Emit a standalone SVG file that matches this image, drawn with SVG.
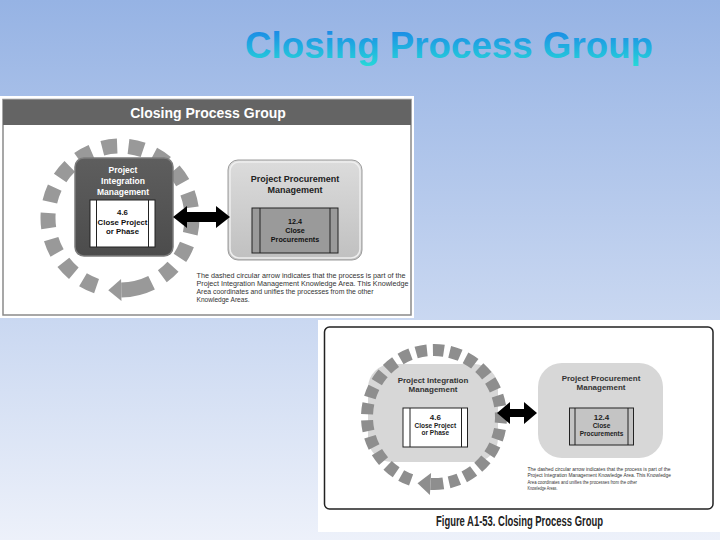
<svg xmlns="http://www.w3.org/2000/svg" width="720" height="540" viewBox="0 0 720 540">
<defs>
<linearGradient id="bg" x1="0" y1="0" x2="0" y2="1">
<stop offset="0" stop-color="#96b3e4"/>
<stop offset="1" stop-color="#edf1fa"/>
</linearGradient>
<linearGradient id="titleGrad" x1="0" y1="0" x2="0" y2="1">
<stop offset="0" stop-color="#1a7fe8"/>
<stop offset="1" stop-color="#26d8d8"/>
</linearGradient>
<linearGradient id="darkBox" x1="0" y1="0" x2="0" y2="1">
<stop offset="0" stop-color="#5e5e5e"/>
<stop offset="1" stop-color="#4c4c4c"/>
</linearGradient>
<linearGradient id="lightBox" x1="0" y1="0" x2="0" y2="1">
<stop offset="0" stop-color="#dcdcdc"/>
<stop offset="1" stop-color="#c0c0c0"/>
</linearGradient>
<style>
.t{font-family:"Liberation Sans",Arial,sans-serif;}
.b{font-weight:bold;}
.ring1{fill:none;stroke:#999;stroke-width:15;stroke-dasharray:15 11.3;}
.ring2{fill:none;stroke:#8e8e8e;stroke-width:12;stroke-dasharray:11 5.88;}
.arrowBody1{fill:none;stroke:#999;stroke-width:15;}
.arrowBody2{fill:none;stroke:#8e8e8e;stroke-width:12;}
.proc{stroke:#222;stroke-width:1;}
</style>
</defs>

<rect width="720" height="540" fill="url(#bg)"/>

<text class="t b" x="245" y="58" font-size="37" fill="url(#titleGrad)" textLength="408" lengthAdjust="spacingAndGlyphs">Closing Process Group</text>

<!-- Panel 1 -->
<g id="panel1">
<rect x="0" y="96" width="414" height="222" fill="#fff"/>
<rect x="3" y="99.5" width="408" height="215.5" fill="none" stroke="#8a8a8a" stroke-width="1.5"/>
<rect x="3" y="100" width="408" height="25" fill="#646464"/>
<text class="t b" x="208" y="118" font-size="14" fill="#fff" text-anchor="middle">Closing Process Group</text>
</g>

<g id="ring1">
<path class="ring1" d="M96.56,286.08 A72,72 0 1 1 162.32,276.25"/>
<path class="arrowBody1" d="M151.56,282.71 A72,72 0 0 1 121.26,289.99"/>
<polygon points="121.45,300.99 121.07,278.99 108.26,290.22" fill="#999"/>
</g>

<g id="integration1">
<rect x="75" y="158" width="98" height="98" rx="9" fill="url(#darkBox)" stroke="#7c7c7c" stroke-width="1.5"/>
<text class="t b" font-size="8.5" fill="#fff" text-anchor="middle"><tspan x="123" y="173">Project</tspan><tspan x="123" y="184">Integration</tspan><tspan x="123" y="195">Management</tspan></text>
<rect x="90" y="200" width="65" height="47" fill="#fff" class="proc"/>
<line x1="96.5" y1="200" x2="96.5" y2="247" class="proc" stroke-width="1.5"/>
<line x1="148.5" y1="200" x2="148.5" y2="247" class="proc" stroke-width="1.5"/>
<text class="t b" font-size="7.8" fill="#111" text-anchor="middle"><tspan x="122.5" y="215">4.6</tspan><tspan x="122.5" y="224.5">Close Project</tspan><tspan x="122.5" y="234">or Phase</tspan></text>
</g>

<g id="procurement1">
<rect x="228" y="160" width="134" height="100" rx="10" fill="url(#lightBox)" stroke="#9c9c9c" stroke-width="1"/>
<rect x="230" y="162" width="130" height="96" rx="9" fill="none" stroke="#eeeeee" stroke-width="1.5"/>
<text class="t b" font-size="9" fill="#222" text-anchor="middle"><tspan x="295" y="181.5">Project Procurement</tspan><tspan x="295" y="192.5">Management</tspan></text>
<rect x="252" y="208" width="86" height="45" fill="#9a9a9a" class="proc"/>
<line x1="260" y1="208" x2="260" y2="253" class="proc" stroke-width="1.5"/>
<line x1="330" y1="208" x2="330" y2="253" class="proc" stroke-width="1.5"/>
<text class="t b" font-size="7.2" fill="#111" text-anchor="middle"><tspan x="295" y="224">12.4</tspan><tspan x="295" y="233">Close</tspan><tspan x="295" y="242">Procurements</tspan></text>
</g>

<g id="connectors1">
<polygon points="173,217 187,206 187,212 216,212 216,206 230,217 216,228 216,222 187,222 187,228" fill="#000"/>
</g>

<g id="note1">
<text class="t" font-size="7" fill="#333">
<tspan x="196.5" y="278" textLength="209" lengthAdjust="spacingAndGlyphs">The dashed circular arrow indicates that the process is part of the</tspan>
<tspan x="196.5" y="286" textLength="212" lengthAdjust="spacingAndGlyphs">Project Integration Management Knowledge Area. This Knowledge</tspan>
<tspan x="196.5" y="294" textLength="177" lengthAdjust="spacingAndGlyphs">Area coordinates and unifies the processes from the other</tspan>
<tspan x="196.5" y="302" textLength="53" lengthAdjust="spacingAndGlyphs">Knowledge Areas.</tspan>
</text>
</g>

<!-- Panel 2 -->
<g id="panel2">
<rect x="318" y="320" width="402" height="212" fill="#fff"/>
<rect x="324.5" y="327" width="388.5" height="182" rx="5" fill="none" stroke="#222" stroke-width="1.5"/>
<text class="t b" x="436" y="526" font-size="14" fill="#222" textLength="167" lengthAdjust="spacingAndGlyphs">Figure A1-53. Closing Process Group</text>
</g>

<g id="integration2">
<rect x="368" y="364" width="130" height="98" rx="24" fill="#d7d7d7"/>
<text class="t b" font-size="8" fill="#333" text-anchor="middle"><tspan x="433" y="383">Project Integration</tspan><tspan x="433" y="392">Management</tspan></text>
<rect x="403" y="408" width="64.5" height="39" fill="#fff" class="proc"/>
<line x1="410" y1="408" x2="410" y2="447" class="proc"/>
<line x1="461.5" y1="408" x2="461.5" y2="447" class="proc"/>
<text class="t b" fill="#222" text-anchor="middle"><tspan x="435.3" y="420" font-size="8">4.6</tspan><tspan x="435.3" y="427.5" font-size="6.5">Close Project</tspan><tspan x="435.3" y="435" font-size="6.5">or Phase</tspan></text>
</g>

<g id="ring2">
<path class="ring2" d="M411.09,479.96 A67,67 0 1 1 449.07,482.28"/>
<path class="arrowBody2" d="M443.32,483.35 A67,67 0 0 1 430.49,483.91"/>
<polygon points="429.91,494.9 431.07,472.93 417.51,483.23" fill="#8e8e8e"/>
</g>

<g id="procurement2">
<rect x="538" y="363" width="125" height="95" rx="24" fill="#d7d7d7"/>
<text class="t b" font-size="8" fill="#333" text-anchor="middle"><tspan x="601" y="380.5">Project Procurement</tspan><tspan x="601" y="389.5">Management</tspan></text>
<rect x="569.5" y="408" width="64" height="37" fill="#c4c4c4" class="proc"/>
<line x1="575" y1="408" x2="575" y2="445" class="proc"/>
<line x1="628" y1="408" x2="628" y2="445" class="proc"/>
<text class="t b" fill="#222" text-anchor="middle"><tspan x="601.5" y="420" font-size="8">12.4</tspan><tspan x="601.5" y="427.5" font-size="6.5">Close</tspan><tspan x="601.5" y="435.5" font-size="6.5">Procurements</tspan></text>
</g>

<g id="connectors2">
<polygon points="497,413 510,402 510,409 524,409 524,402 537,413 524,424 524,417 510,417 510,424" fill="#000"/>
</g>

<g id="note2">
<text class="t" font-size="5" fill="#333">
<tspan x="527.5" y="470.5" textLength="143" lengthAdjust="spacingAndGlyphs">The dashed circular arrow indicates that the process is part of the</tspan>
<tspan x="527.5" y="477" textLength="143.5" lengthAdjust="spacingAndGlyphs">Project Integration Management Knowledge Area. This Knowledge</tspan>
<tspan x="527.5" y="483.5" textLength="109.5" lengthAdjust="spacingAndGlyphs">Area coordinates and unifies the processes from the other</tspan>
<tspan x="527.5" y="490" textLength="30" lengthAdjust="spacingAndGlyphs">Knowledge Areas.</tspan>
</text>
</g>
</svg>
